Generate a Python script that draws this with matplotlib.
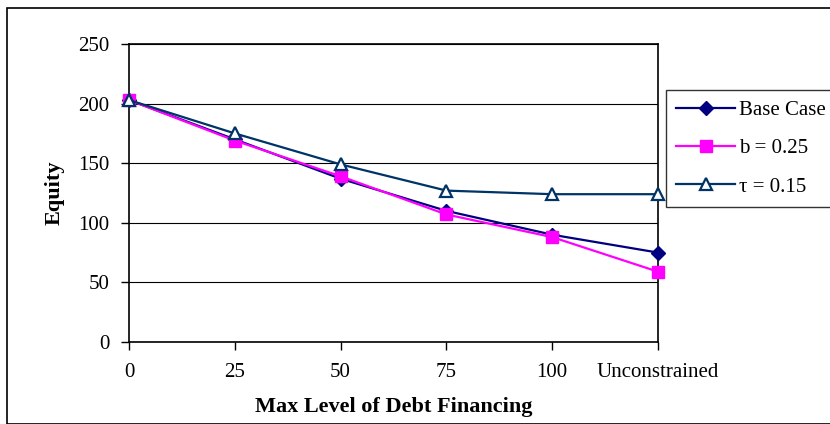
import matplotlib
matplotlib.use("Agg")
import matplotlib.pyplot as plt
from matplotlib.patches import Rectangle

plt.rcParams['font.family'] = ['Liberation Serif', 'DejaVu Serif']

categories = ["0", "25", "50", "75", "100", "Unconstrained"]
base_case = [203, 170, 137, 110, 90, 75]
b_025 = [203, 169, 139, 107, 88, 59]
tau_015 = [203, 175, 149, 127, 124, 124]
y_ticks = [0, 50, 100, 150, 200, 250]

W, H = 830, 424
fig = plt.figure(figsize=(W / 100, H / 100), dpi=100)

# outer chart frame
fig.patches.append(Rectangle((7 / W, 0), 1.0, 1 - 8 / H, transform=fig.transFigure,
                             fill=False, edgecolor='black', linewidth=1.2))

left, right, top, bottom = 129, 658, 44, 342
ax = fig.add_axes([left / W, 1 - bottom / H, (right - left) / W, (bottom - top) / H])

x = list(range(len(categories)))
ax.plot(x, base_case, color='#000080', marker='D', markersize=7.5, linewidth=1.6,
        label='Base Case', zorder=3, clip_on=False)
ax.plot(x, b_025, color='#FF00FF', marker='s', markersize=8, linewidth=1.6,
        label='b = 0.25', zorder=3, clip_on=False)
ax.plot(x, tau_015, color='#003366', marker='^', markersize=9, linewidth=1.6,
        markerfacecolor='white', markeredgecolor='#003366', markeredgewidth=1.6,
        label='\u03c4 = 0.15', zorder=4, clip_on=False)

ax.set_xlim(0, len(categories) - 1)
ax.set_ylim(0, 250)
ax.set_yticks(y_ticks)
ax.set_xticks(x)
ax.set_xticklabels(categories)
ax.yaxis.grid(True, color='black', linewidth=0.8)
ax.set_axisbelow(True)
for s in ax.spines.values():
    s.set_color('black')
    s.set_linewidth(1.2)
ax.tick_params(axis='both', direction='out', length=6, width=1, labelsize=15,
               colors='black')
ax.tick_params(axis='x', pad=9)
ax.tick_params(axis='y', pad=8)

ax.set_xlabel('Max Level of Debt Financing', fontsize=16, fontweight='bold', labelpad=11)
ax.set_ylabel('Equity', fontsize=16, fontweight='bold', labelpad=10)

leg = ax.legend(loc='upper left',
                bbox_to_anchor=((666 - left) / (right - left), (bottom - 90) / (bottom - top)),
                fontsize=15, frameon=True, fancybox=False, borderaxespad=0,
                handlelength=2.8, labelspacing=0.9, borderpad=0.5, handletextpad=0.2)
leg.get_frame().set_edgecolor('black')
leg.get_frame().set_linewidth(1.0)
leg.set_zorder(5)

fig.savefig('out.png', dpi=100)
